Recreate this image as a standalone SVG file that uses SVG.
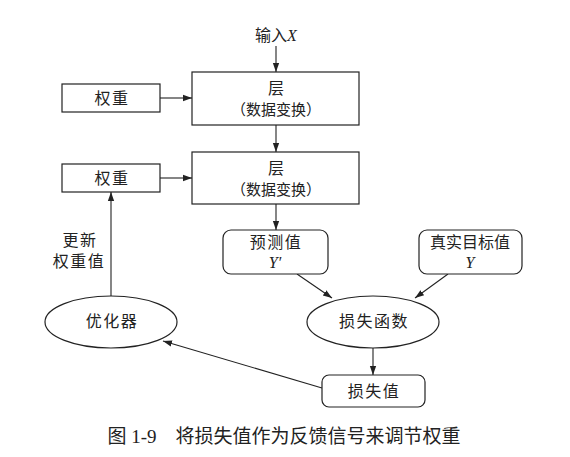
<svg xmlns="http://www.w3.org/2000/svg" width="570" height="457" viewBox="0 0 570 457">
<defs>
<style>
.t{font-family:"Liberation Serif","Noto Sans CJK SC",serif;font-size:16px;fill:#222;text-anchor:middle}
.s{letter-spacing:1.5px}
.p{font-size:15px}
.i{font-style:italic}
.b{fill:#fff;stroke:#222;stroke-width:1.2}
.c{stroke:#222;stroke-width:1.1;fill:none;marker-end:url(#ah)}
</style>
<marker id="ah" viewBox="0 0 10 10" refX="10" refY="5" markerWidth="9" markerHeight="9" markerUnits="userSpaceOnUse" orient="auto">
<path d="M0,1.5 L10,5 L0,8.5 Z" fill="#222"/>
</marker>
</defs>
<rect width="570" height="457" fill="#fff"/>
<g id="connectors">
<line class="c" x1="276" y1="46" x2="276" y2="72"/>
<line class="c" x1="160" y1="98" x2="192" y2="98"/>
<line class="c" x1="276" y1="125" x2="276" y2="152"/>
<line class="c" x1="160" y1="178" x2="192" y2="178"/>
<line class="c" x1="276" y1="204" x2="276" y2="230"/>
<line class="c" x1="297" y1="274" x2="332" y2="298"/>
<line class="c" x1="448" y1="274" x2="415" y2="298"/>
<line class="c" x1="373" y1="348" x2="373" y2="375"/>
<line class="c" x1="322" y1="388" x2="163" y2="341"/>
<line class="c" x1="111" y1="296" x2="111" y2="192"/>
</g>
<g id="input"><text class="t" x="276" y="41">输入<tspan class="i">X</tspan></text></g>
<g id="weights1"><rect class="b" x="62" y="84" width="98" height="28"/><text class="t s" x="112" y="104">权重</text></g>
<g id="layer1"><rect class="b" x="192" y="72" width="167" height="53"/><text class="t" x="276" y="94">层</text><text class="t p" x="276" y="115">（数据变换）</text></g>
<g id="weights2"><rect class="b" x="62" y="164" width="98" height="28"/><text class="t s" x="112" y="184">权重</text></g>
<g id="layer2"><rect class="b" x="192" y="152" width="167" height="52"/><text class="t" x="276" y="174">层</text><text class="t p" x="276" y="195">（数据变换）</text></g>
<g id="prediction"><rect class="b" x="223" y="230" width="105" height="44" rx="8"/><text class="t s" x="276" y="248">预测值</text><text class="t i" x="275" y="268">Y′</text></g>
<g id="target"><rect class="b" x="419" y="230" width="103" height="44" rx="8"/><text class="t" x="470" y="248">真实目标值</text><text class="t i" x="470" y="268">Y</text></g>
<g id="lossfn"><ellipse class="b" cx="373" cy="322" rx="66" ry="26"/><text class="t s" x="374" y="327">损失函数</text></g>
<g id="optimizer"><ellipse class="b" cx="111" cy="322" rx="66" ry="26"/><text class="t s" x="112" y="327">优化器</text></g>
<g id="lossval"><rect class="b" x="322" y="375" width="103" height="32" rx="7"/><text class="t s" x="374" y="397">损失值</text></g>
<g id="update-label"><text class="t s" x="80" y="246">更新</text><text class="t s" x="79" y="267">权重值</text></g>
<g id="caption"><text class="t" x="284" y="443" style="font-size:19px">图 1-9　将损失值作为反馈信号来调节权重</text></g>
</svg>
